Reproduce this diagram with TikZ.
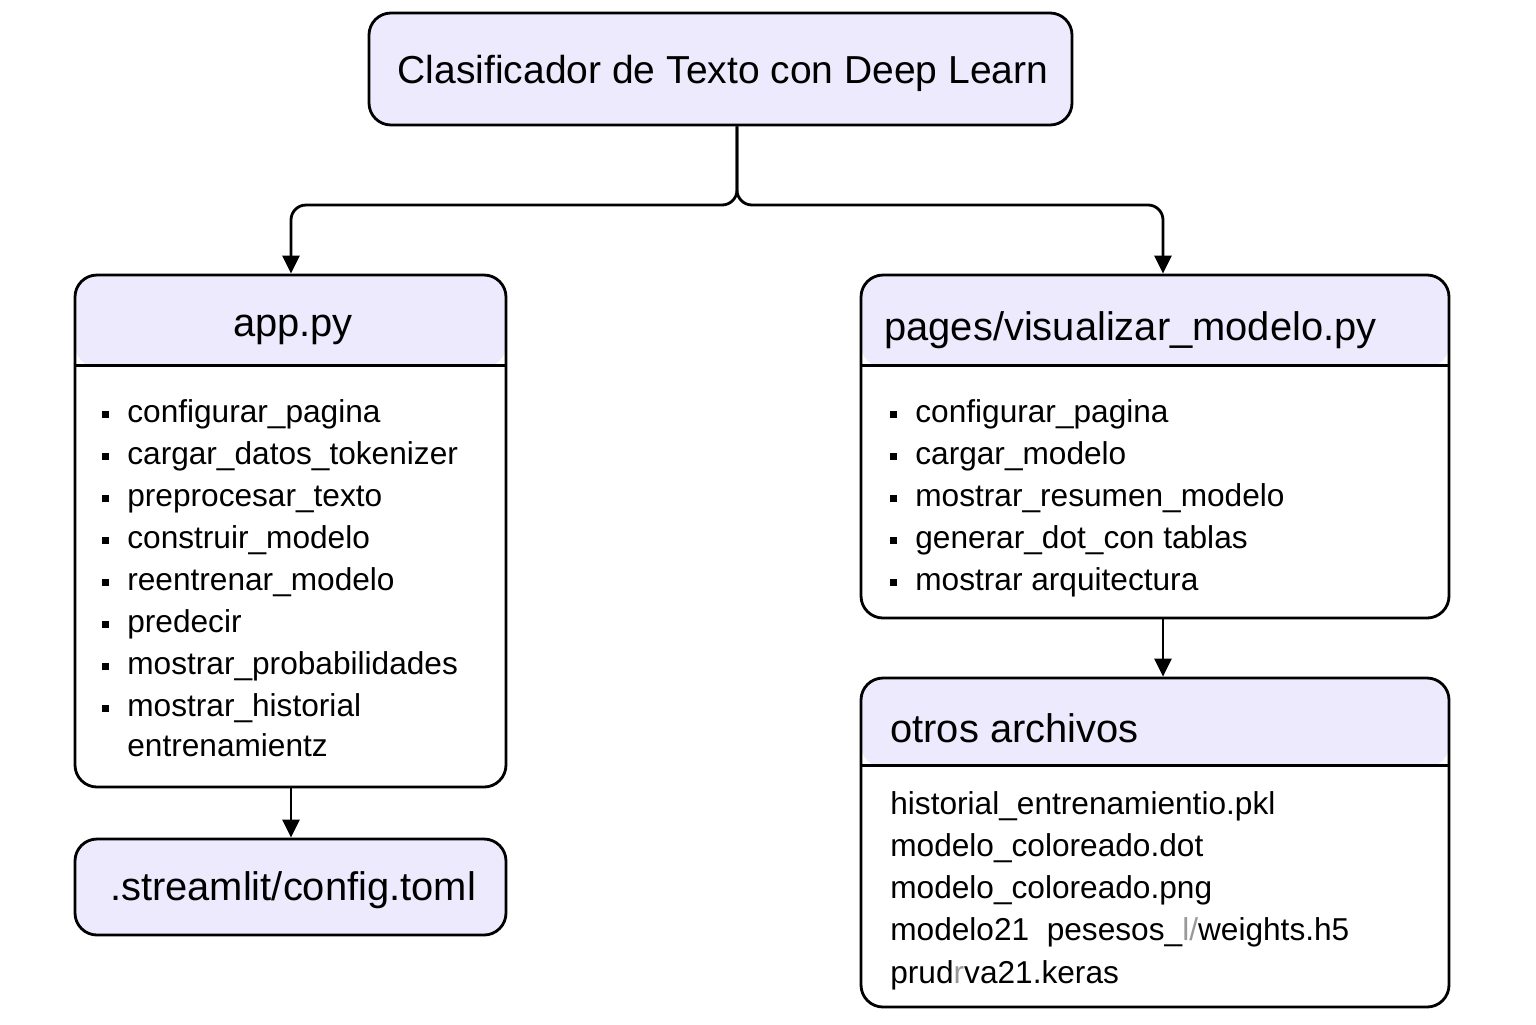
\documentclass[tikz,border=0pt]{standalone}
\usepackage{fontspec}
\setmainfont{Liberation Sans}
\usetikzlibrary{positioning}
\usetikzlibrary{arrows.meta}
\usetikzlibrary{calc}
\definecolor{lav}{RGB}{236,234,252}
\tikzset{
    boxn/.style = {draw=black, line width=1.6pt, rounded corners=0.44cm, fill=white, inner sep=0pt},
    boxh/.style = {boxn, fill=lav},
    hdrbox/.style = {boxn, path picture={\fill[lav] (path picture bounding box.north west) rectangle ([yshift=-#1]path picture bounding box.north east);}},
    hdr/.style = {font=\fontsize{22.7}{26}\selectfont, inner sep=0pt},
    item/.style = {font=\fontsize{18}{21}\selectfont, anchor=base west, inner sep=0pt},
    edgen/.style = {-, line width=1.6pt, black},
    edgea/.style = {edgen, -{Triangle[length=0.36cm,width=0.34cm]}},
}

\begin{document}
\begin{tikzpicture}
\useasboundingbox (0,0) rectangle (30.72,-20.48);

% boxes
\node[boxh, minimum width=14.06cm, minimum height=2.24cm] at (14.41,-1.38) (title) {};
\node[hdrbox=1.84cm, minimum width=8.62cm, minimum height=10.24cm] at (5.81,-10.62) (app) {};
\node[hdrbox=1.84cm, minimum width=11.76cm, minimum height=6.86cm] at (23.1,-8.93) (pages) {};
\node[hdrbox=1.78cm, minimum width=11.76cm, minimum height=6.58cm] at (23.1,-16.85) (otros) {};
\node[boxh, minimum width=8.62cm, minimum height=1.92cm] at (5.81,-17.74) (cfg) {};

\draw[edgen] ([yshift=-1.84cm]app.north west) -- ([yshift=-1.84cm]app.north east);
\draw[edgen] ([yshift=-1.84cm]pages.north west) -- ([yshift=-1.84cm]pages.north east);
\draw[edgen] ([yshift=-1.78cm]otros.north west) -- ([yshift=-1.78cm]otros.north east);

% titles
\node[hdr, font=\fontsize{22.2}{26}\selectfont] at (14.46,-1.46) (titlet) {Clasificador de Texto con Deep Learn};
\node[hdr] at (5.86,-6.6) (appt) {app.py};
\node[hdr, anchor=west] at (17.68,-6.6) (pagest) {pages/visualizar\_modelo.py};
\node[hdr, anchor=west] at (17.8,-14.56) (otrost) {otros archivos};
\node[hdr] at (5.86,-17.8) (cfgt) {.streamlit/config.toml};

% lists
\foreach \t [count=\i] in {configurar\_pagina, cargar\_datos\_tokenizer, preprocesar\_texto, construir\_modelo, reentrenar\_modelo, predecir, mostrar\_probabilidades, mostrar\_historial} {
  \node[item] at (2.54,{-8.44-0.84*(\i-1)}) (appi\i) {\t};
  \fill ($(appi\i.base west)+(-0.51,0.09)$) rectangle ++(0.14,0.14);
}
\node[item] at (2.54,-15.12) (appi9) {entrenamientz};

\foreach \t [count=\i] in {configurar\_pagina, cargar\_modelo, mostrar\_resumen\_modelo, generar\_dot\_con tablas, mostrar arquitectura} {
  \node[item] at (18.3,{-8.44-0.84*(\i-1)}) (pagi\i) {\t};
  \fill ($(pagi\i.base west)+(-0.51,0.09)$) rectangle ++(0.14,0.14);
}

\foreach \t [count=\i] in {historial\_entrenamientio.pkl, modelo\_coloreado.dot, modelo\_coloreado.png, {modelo21\ \ pesesos\_{\color{black!40}l/}weights.h5}, {prud{\color{black!40}r}va21.keras}} {
  \node[item] at (17.8,{-16.28-0.845*(\i-1)}) (otri\i) {\t};
}

% connectors
\coordinate (split) at (14.74,-4.1);
\coordinate (lin) at (5.82,0);
\coordinate (rin) at (23.26,0);
\draw[edgea, rounded corners=0.3cm] (split |- title.south) -- (split) -| (app.north -| lin);
\draw[edgea, rounded corners=0.3cm] (split |- title.south) -- (split) -| (pages.north -| rin);
\draw[edgea] (app.south -| lin) -- (cfg.north -| lin);
\draw[edgea] (pages.south -| rin) -- (otros.north -| rin);

\end{tikzpicture}
\end{document}
